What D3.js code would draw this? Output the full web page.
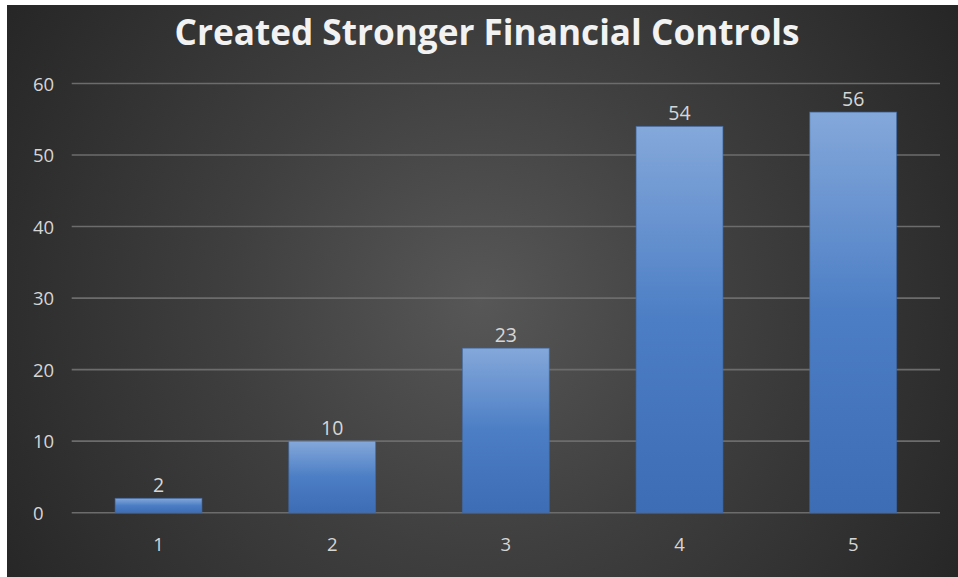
<!DOCTYPE html>
<html>
<head>
<meta charset="utf-8">
<script src="https://cdn.jsdelivr.net/npm/d3@7"></script>
<style>
  html, body { margin: 0; padding: 0; background: #ffffff; }
  svg { display: block; }
</style>
</head>
<body>
<svg id="chart" width="958" height="577"></svg>
<script>
// Chart data
const title = "Created Stronger Financial Controls";
const categories = ["1", "2", "3", "4", "5"];
const values = [2, 10, 23, 54, 56];
const yTicks = [0, 10, 20, 30, 40, 50, 60];

const W = 958, H = 577;
const panel = { x: 7, y: 5 };
const plot = { left: 71.7, right: 940, top: 83.5, bottom: 512.7 };

const svg = d3.select("#chart");
const defs = svg.append("defs");

// Dark panel with a soft radial glow in the middle
const bg = defs.append("radialGradient")
  .attr("id", "panelGlow")
  .attr("gradientUnits", "userSpaceOnUse")
  .attr("cx", 480).attr("cy", 300).attr("r", 560);
bg.append("stop").attr("offset", "0%").attr("stop-color", "#575757");
bg.append("stop").attr("offset", "45%").attr("stop-color", "#3f3f3f");
bg.append("stop").attr("offset", "100%").attr("stop-color", "#262626");

// Bar fill: light steel blue at the top deepening downwards
const barGrad = defs.append("linearGradient")
  .attr("id", "barFill")
  .attr("x1", 0).attr("y1", 0).attr("x2", 0).attr("y2", 1);
barGrad.append("stop").attr("offset", "0%").attr("stop-color", "#84a8da");
barGrad.append("stop").attr("offset", "50%").attr("stop-color", "#4c7ec5");
barGrad.append("stop").attr("offset", "100%").attr("stop-color", "#3d6db4");

svg.append("rect")
  .attr("x", panel.x).attr("y", panel.y)
  .attr("width", W - panel.x).attr("height", H - panel.y)
  .attr("fill", "url(#panelGlow)");

const x = d3.scaleBand()
  .domain(categories)
  .range([plot.left, plot.right])
  .paddingInner(0.5)
  .paddingOuter(0.25);

const y = d3.scaleLinear()
  .domain([0, 60])
  .range([plot.bottom, plot.top]);

// Horizontal gridlines
svg.append("g")
  .selectAll("line")
  .data(yTicks)
  .join("line")
  .attr("x1", plot.left).attr("x2", plot.right)
  .attr("y1", d => y(d)).attr("y2", d => y(d))
  .attr("stroke", "#6c6c6c")
  .attr("stroke-width", 1.6);

// Y axis labels
const labelFont = "'Open Sans', 'Noto Sans', sans-serif";
svg.append("g")
  .selectAll("text")
  .data(yTicks)
  .join("text")
  .attr("x", 33)
  .attr("y", d => y(d) + 7)
  .attr("text-anchor", "start")
  .attr("font-family", labelFont)
  .attr("font-size", 18.5)
  .attr("fill", "#d6d6d6")
  .text(d => d);

// Bars
const data = categories.map((c, i) => ({ cat: c, value: values[i] }));
svg.append("g")
  .selectAll("rect")
  .data(data)
  .join("rect")
  .attr("x", d => x(d.cat))
  .attr("y", d => y(d.value))
  .attr("width", x.bandwidth())
  .attr("height", d => y(0) - y(d.value))
  .attr("fill", "url(#barFill)")
  .attr("stroke", "#3f69a6")
  .attr("stroke-opacity", 0.6)
  .attr("stroke-width", 1);

// Value labels above bars
svg.append("g")
  .selectAll("text")
  .data(data)
  .join("text")
  .attr("x", d => x(d.cat) + x.bandwidth() / 2)
  .attr("y", d => y(d.value) - 6)
  .attr("text-anchor", "middle")
  .attr("font-family", labelFont)
  .attr("font-size", 19.5)
  .attr("fill", "#d6d6d6")
  .text(d => d.value);

// X axis labels
svg.append("g")
  .selectAll("text")
  .data(categories)
  .join("text")
  .attr("x", d => x(d) + x.bandwidth() / 2)
  .attr("y", 550.5)
  .attr("text-anchor", "middle")
  .attr("font-family", labelFont)
  .attr("font-size", 18.5)
  .attr("fill", "#d6d6d6")
  .text(d => d);

// Title
const t = svg.append("text")
  .attr("x", 487)
  .attr("y", 44.5)
  .attr("text-anchor", "middle")
  .attr("font-family", labelFont)
  .attr("font-weight", 700)
  .attr("font-size", 36)
  .attr("fill", "#f2f2f2")
  .text(title);
const tw = t.node().getComputedTextLength();
if (tw > 0) t.attr("textLength", 625).attr("lengthAdjust", "spacingAndGlyphs");
</script>
</body>
</html>
